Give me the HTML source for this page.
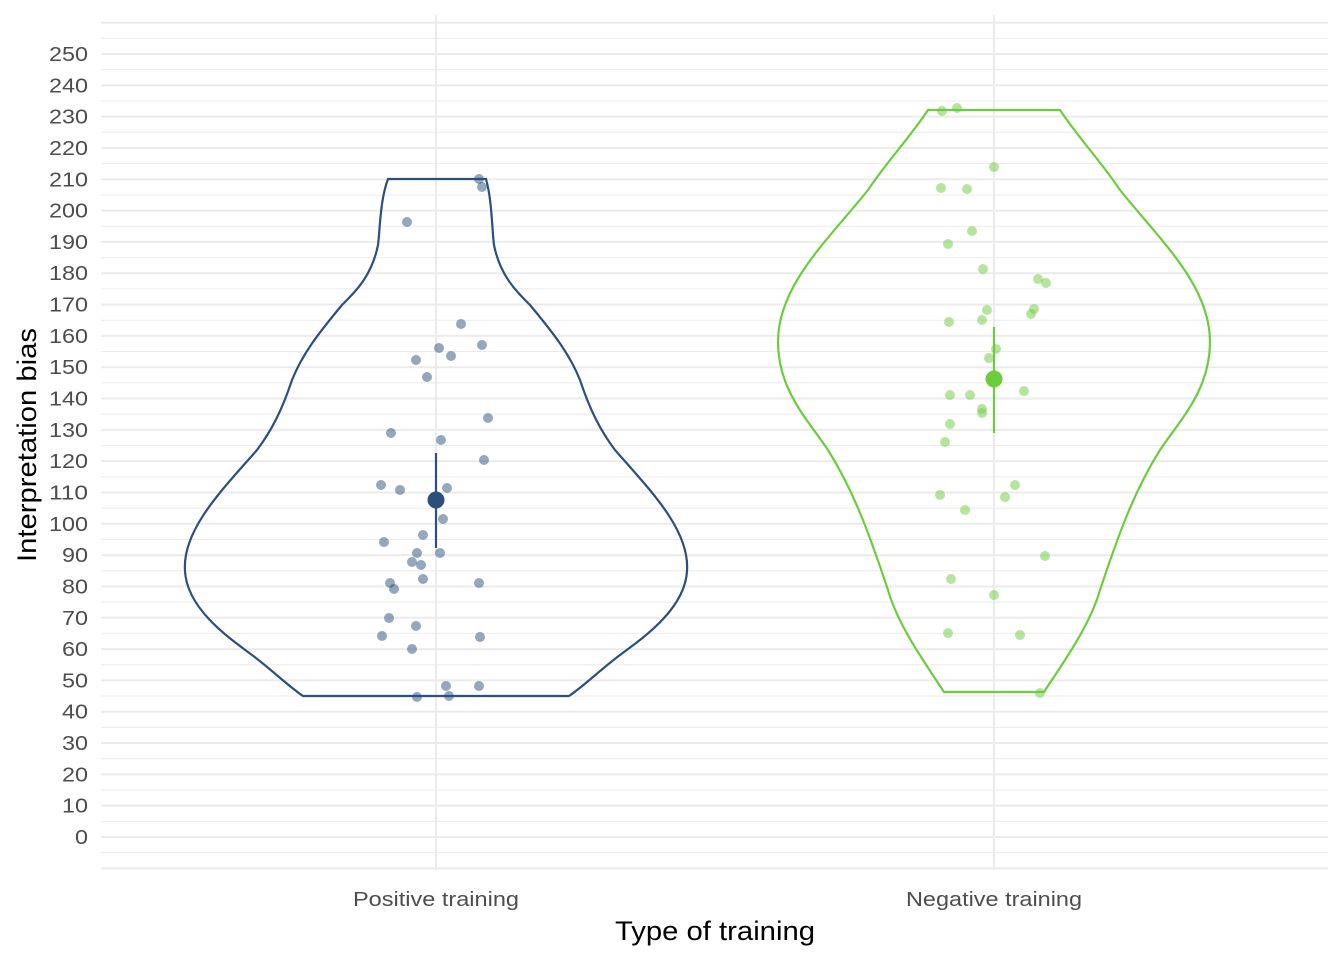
<!DOCTYPE html>
<html><head><meta charset="utf-8"><style>
body{margin:0;background:#fff}
svg text{font-family:"Liberation Sans",Arial,sans-serif}
</style></head><body>
<svg width="1344" height="960" xmlns="http://www.w3.org/2000/svg">
<g id="grid" stroke="#ebebeb"></g>
<g id="labels" fill="#4d4d4d" font-size="20" text-anchor="end"></g>
<line x1="436" y1="15" x2="436" y2="870" stroke="#ebebeb" stroke-width="2"/>
<line x1="994" y1="15" x2="994" y2="870" stroke="#ebebeb" stroke-width="2"/>
<path d="M388,179 L486,179 C492,200 492,230 494,245 C500,275 515,290 530,305 C555,335 570,355 580,380 C590,410 600,430 615,450 C650,490 690,530 687,571 C685,610 640,640 620,655 C600,670 585,685 569,696 L303,696 C287,685 272,670 252,655 C232,640 187,610 185,571 C182,530 222,490 257,450 C272,430 282,410 292,380 C302,355 317,335 342,305 C357,290 372,275 378,245 C380,230 380,200 388,179 Z" fill="none" stroke="#2c4f7c" stroke-width="2.2"/>
<path d="M928,110 L1060,110 C1080,140 1100,160 1120,190 C1160,240 1210,285 1210,342 C1210,390 1180,420 1160,450 C1135,490 1120,530 1100,590 C1090,625 1065,660 1044,692 L944,692 C923,660 898,625 888,590 C868,530 853,490 828,450 C808,420 778,390 778,342 C778,285 828,240 868,190 C888,160 908,140 928,110 Z" fill="none" stroke="#6ccc3c" stroke-width="2.2"/>
<g id="pos" fill="#2c4f7c" fill-opacity="0.5"></g>
<g id="neg" fill="#6ccc3c" fill-opacity="0.5"></g>
<line x1="436" y1="453" x2="436" y2="548" stroke="#2c4f7c" stroke-width="2.2"/>
<circle cx="436" cy="500" r="8.5" fill="#2c4f7c"/>
<line x1="994" y1="327" x2="994" y2="433" stroke="#6ccc3c" stroke-width="2.2"/>
<circle cx="994" cy="379" r="8.5" fill="#6ccc3c"/>
<text x="353" y="906" font-size="20" fill="#4d4d4d" textLength="166" lengthAdjust="spacingAndGlyphs">Positive training</text>
<text x="906" y="906" font-size="20" fill="#4d4d4d" textLength="176" lengthAdjust="spacingAndGlyphs">Negative training</text>
<text x="615" y="940" font-size="27" textLength="200" lengthAdjust="spacingAndGlyphs">Type of training</text>
<text transform="translate(36,562) rotate(-90)" font-size="27" textLength="234" lengthAdjust="spacingAndGlyphs">Interpretation bias</text>
</svg>
<script>
const ns="http://www.w3.org/2000/svg";
const g=document.getElementById('grid'),l=document.getElementById('labels');
for(let v=-10;v<=260;v+=5){const y=837-v*3.132;if(y<15||y>870)continue;
const e=document.createElementNS(ns,'line');e.setAttribute('x1',101);e.setAttribute('x2',1328);e.setAttribute('y1',y);e.setAttribute('y2',y);
e.setAttribute('stroke-width',v%10===0?2:1);g.appendChild(e);
if(v%10===0&&v>=0&&v<=250){const t=document.createElementNS(ns,'text');t.setAttribute('x',88);t.setAttribute('y',y+7);
const s=String(v);t.setAttribute('textLength',s.length*13);t.setAttribute('lengthAdjust','spacingAndGlyphs');t.textContent=s;l.appendChild(t);}}
const P=[[479,179],[482,187],[407,222],[461,324],[439,348],[482,345],[451,356],[416,360],[427,377],[488,418],[391,433],[441,440],[484,460],[381,485],[400,490],[447,488],[443,519],[423,535],[384,542],[417,553],[440,553],[412,562],[421,565],[423,579],[390,583],[394,589],[479,583],[389,618],[416,626],[382,636],[480,637],[412,649],[446,686],[479,686],[417,697],[449,696]];
const N=[[942,111],[957,108],[994,167],[941,188],[967,189],[972,231],[948,244],[983,269],[1038,279],[1046,283],[949,322],[987,310],[982,320],[1034,309],[1031,314],[996,349],[989,358],[950,395],[970,395],[1024,391],[982,409],[982,413],[950,424],[945,442],[940,495],[1015,485],[1005,497],[965,510],[1045,556],[951,579],[994,595],[948,633],[1020,635],[1040,693]];
function pts(id,a){const gg=document.getElementById(id);a.forEach(p=>{const c=document.createElementNS(ns,'circle');c.setAttribute('cx',p[0]);c.setAttribute('cy',p[1]);c.setAttribute('r',5);gg.appendChild(c);});}
pts('pos',P);pts('neg',N);
</script>
</body></html>
